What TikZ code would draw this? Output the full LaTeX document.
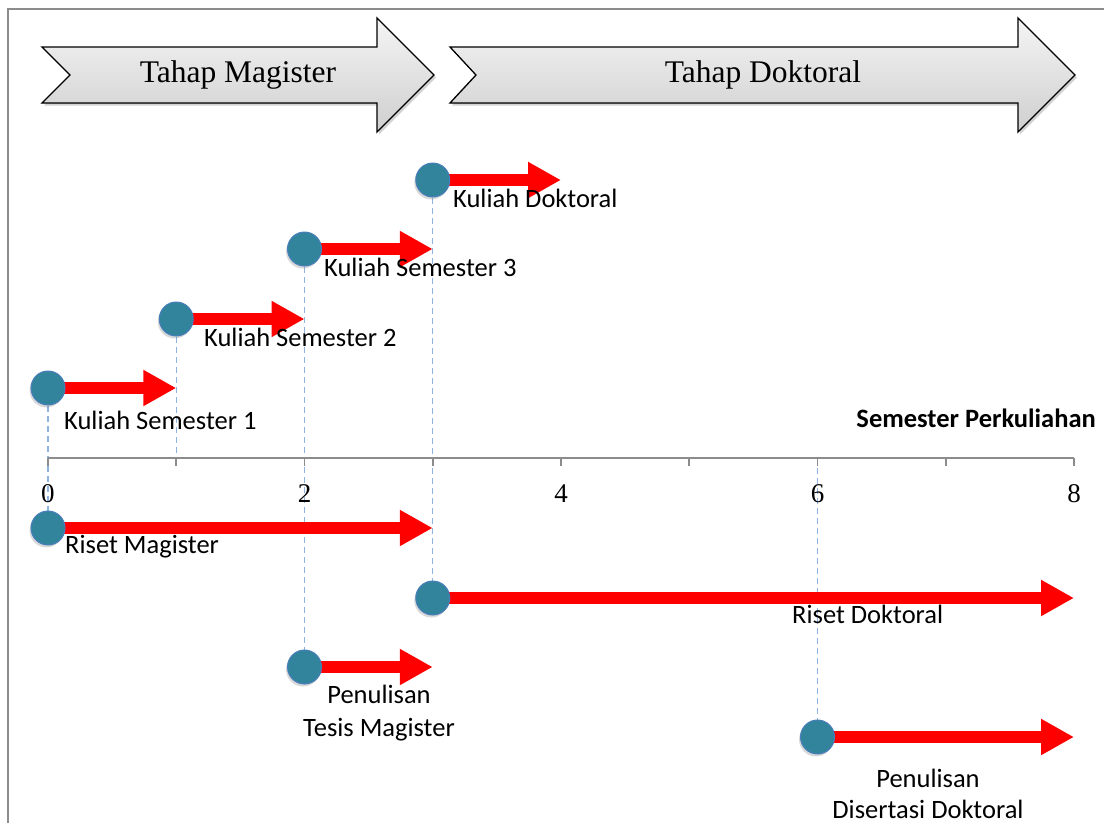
\documentclass[tikz,border=0pt]{standalone}
\usepackage{fontspec}
\setmainfont{Liberation Serif}
\newfontfamily\lblfont{Carlito}
\usetikzlibrary{arrows.meta,shadows,backgrounds}

\definecolor{dotfill}{HTML}{31849B}
\definecolor{dotline}{HTML}{4A7EBB}
\definecolor{guideblue}{HTML}{8DB3E2}
\definecolor{framegray}{HTML}{8C8C8C}

\tikzset{
  phase/.style={draw=black, line width=1.3pt, top color=gray!8, bottom color=gray!38,
    drop shadow={shadow xshift=2pt, shadow yshift=-2.5pt, opacity=.35}},
  phasetext/.style={font=\fontsize{31.5}{36}\selectfont},
  dot/.style={circle, minimum size=34pt, inner sep=0pt, fill=dotfill, draw=dotline, line width=1pt,
    drop shadow={shadow xshift=-1.5pt, shadow yshift=-2.5pt, opacity=.3}},
  span/.style={red, line width=12pt, -{Triangle[length=33pt,width=34pt]}},
  guide/.style={guideblue, line width=1.4pt, dash pattern=on 6pt off 4pt},
  lbl/.style={font=\lblfont\fontsize{26.5}{32}\selectfont, inner sep=0pt},
  axisnum/.style={font=\fontsize{27}{30}\selectfont, inner sep=0pt},
  tick/.style={framegray, line width=1.6pt},
}

\begin{document}
\begin{tikzpicture}[x=1pt,y=-1pt]
\useasboundingbox (0,0) rectangle (1104,823);

% frame
\draw[framegray, line width=2pt] (8,823) -- (8,9) -- (1104,9);

% phase chevrons
\filldraw[phase] (42,47) -- (377,47) -- (377,18) -- (434,75) -- (377,132) -- (377,103) -- (42,103) -- (70,75) -- cycle;
\node[phasetext] (mag) at (238,75) {Tahap Magister};
\filldraw[phase] (450,47) -- (1018,47) -- (1018,18) -- (1075,75) -- (1018,132) -- (1018,103) -- (450,103) -- (476,75) -- cycle;
\node[phasetext] (dok) at (763,75) {Tahap Doktoral};

% semester axis
\foreach \i in {0,...,8} {
  \coordinate (t\i) at ({48+128.25*\i},458);
  \draw[tick] (t\i) -- ++(0,8);
}
\draw[framegray, line width=1.6pt] (t0) -- (t8);
\foreach \i in {0,2,4,6,8} {
  \node[axisnum, anchor=base] (n\i) at ({48+128.25*\i},502) {\i};
}
\node[lbl, anchor=base east, font=\lblfont\bfseries\fontsize{26.5}{32}\selectfont] (axlbl) at (1096,427) {Semester Perkuliahan};

% activity start points
\node[dot] (k1) at (t0 |- 0,388) {};
\node[dot] (k2) at (t1 |- 0,319) {};
\node[dot] (k3) at (t2 |- 0,249) {};
\node[dot] (kd) at (t3 |- 0,180) {};
\node[dot] (rm) at (t0 |- 0,528) {};
\node[dot] (rd) at (t3 |- 0,598) {};
\node[dot] (pt) at (t2 |- 0,667) {};
\node[dot] (pd) at (t6 |- 0,737) {};

% activity end points
\coordinate (k1e) at (t1 |- k1);
\coordinate (k2e) at (t2 |- k2);
\coordinate (k3e) at (t3 |- k3);
\coordinate (kde) at (t4 |- kd);
\coordinate (rme) at (t3 |- rm);
\coordinate (rde) at (t8 |- rd);
\coordinate (pte) at (t3 |- pt);
\coordinate (pde) at (t8 |- pd);

\begin{pgfonlayer}{background}
  \draw[guide] (k1) -- (rm);
  \draw[guide] (k2) -- (t1);
  \draw[guide] (k3) -- (pt);
  \draw[guide] (kd) -- (rd);
  \draw[guide] (t6) -- (pd);
  \draw[span] (k1.center) -- (k1e);
  \draw[span] (k2.center) -- (k2e);
  \draw[span] (k3.center) -- (k3e);
  \draw[span] (kd.center) -- (kde);
  \draw[span] (rm.center) -- (rme);
  \draw[span] (rd.center) -- (rde);
  \draw[span] (pt.center) -- (pte);
  \draw[span] (pd.center) -- (pde);
\end{pgfonlayer}

% activity labels
\node[lbl, anchor=base west] (k1l) at (64,429) {Kuliah Semester 1};
\node[lbl, anchor=base west] (k2l) at (204,346) {Kuliah Semester 2};
\node[lbl, anchor=base west] (k3l) at (324,276) {Kuliah Semester 3};
\node[lbl, anchor=base west] (kdl) at (453,207) {Kuliah Doktoral};
\node[lbl, anchor=base west] (rml) at (65,553) {Riset Magister};
\node[lbl, anchor=base west] (rdl) at (792,623) {Riset Doktoral};
\node[lbl, anchor=base, align=center, font=\lblfont\fontsize{26.5}{33}\selectfont] (ptl) at (379,736) {Penulisan\\Tesis Magister};
\node[lbl, anchor=base, align=center, font=\lblfont\fontsize{26.5}{31}\selectfont] (pdl) at (928,818) {Penulisan\\Disertasi Doktoral};
\end{tikzpicture}
\end{document}
